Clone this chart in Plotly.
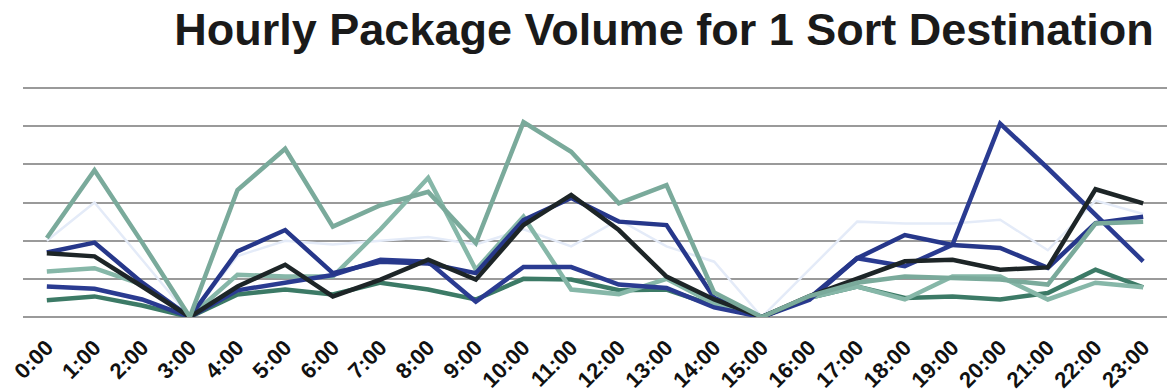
import plotly.graph_objects as go

hours = [f"{h}:00" for h in range(24)]

series_a = [2.07, 3.85, 1.95, 0, 3.33, 4.41, 2.37, 2.93, 3.28, 1.94, 5.11, 4.33,
            2.98, 3.46, 0.64, 0, 0.55, 0.9, 1.06, 1.03, 0.98, 0.85, 2.45, 2.5]
series_d = [1.19, 1.28, 0.85, 0, 1.11, 1.06, 1.06, 2.3, 3.65, 1.24, 2.63, 0.72,
            0.6, 1.0, 0.35, 0, 0.5, 0.8, 0.46, 1.06, 1.06, 0.46, 0.9, 0.78]
series_b = [1.69, 1.95, 0.9, 0, 1.72, 2.28, 1.15, 1.45, 1.4, 1.15, 2.54, 3.12,
            2.5, 2.41, 0.5, 0, 0.5, 1.54, 2.15, 1.89, 1.81, 1.29, 2.46, 2.63]
series_e = [0.8, 0.74, 0.46, 0, 0.7, 0.9, 1.1, 1.5, 1.45, 0.4, 1.31, 1.31,
            0.85, 0.76, 0.25, 0, 0.45, 1.54, 1.33, 1.89, 5.07, 3.9, 2.7, 1.46]
series_c = [1.67, 1.59, 0.8, 0, 0.8, 1.37, 0.54, 0.98, 1.5, 0.98, 2.41, 3.2,
            2.28, 1.06, 0.46, 0, 0.55, 1.0, 1.46, 1.5, 1.24, 1.3, 3.35, 2.98]
series_f = [0.44, 0.54, 0.3, 0, 0.59, 0.72, 0.59, 0.9, 0.72, 0.46, 1.0, 0.98,
            0.7, 0.72, 0.3, 0, 0.5, 0.8, 0.5, 0.54, 0.46, 0.63, 1.24, 0.78]
series_g = [2.0, 3.0, 1.5, 0, 1.6, 2.0, 1.9, 2.0, 2.1, 1.9, 2.3, 1.85,
            2.55, 1.85, 1.45, 0, 1.25, 2.5, 2.45, 2.45, 2.55, 1.75, 3.05, 2.7]

traces = [
    (series_g, "#e4ebf8", 2.5),
    (series_f, "#3c7a66", 4.5),
    (series_d, "#86b7a8", 4.5),
    (series_e, "#2a3b91", 4.5),
    (series_b, "#26378a", 4.5),
    (series_c, "#1d2527", 4.5),
    (series_a, "#7aaa9b", 4.5),
]

x_idx = list(range(len(hours)))
fig = go.Figure()
for vals, color, width in traces:
    fig.add_trace(go.Scatter(x=x_idx, y=vals, mode="lines",
                             line=dict(color=color, width=width),
                             showlegend=False, hoverinfo="skip"))

fig.update_layout(
    width=1167, height=392,
    margin=dict(l=23, r=0, t=87, b=75),
    paper_bgcolor="white", plot_bgcolor="white",
    title=dict(text="<b>Hourly Package Volume for 1 Sort Destination</b>",
               x=0.569, xanchor="center", y=0.925, yanchor="middle",
               font=dict(family="Liberation Sans, Arial", size=45, color="#1a1a1a")),
    xaxis=dict(range=[-0.5, 23.5], tickmode="array", tickvals=x_idx,
               ticktext=[f"<b>{h}</b>" for h in hours],
               tickangle=-45, showgrid=False, zeroline=False, showline=False,
               ticks="outside", ticklen=8, tickcolor="rgba(0,0,0,0)",
               tickfont=dict(family="Liberation Sans, Arial", size=22, color="#111111")),
    yaxis=dict(range=[0, 6.03], dtick=1, showgrid=True, gridcolor="#9a9a9a", gridwidth=1.5,
               zeroline=True, zerolinecolor="#9a9a9a", zerolinewidth=1.5,
               showticklabels=False, showline=False),
)

fig.write_html("out.html")
